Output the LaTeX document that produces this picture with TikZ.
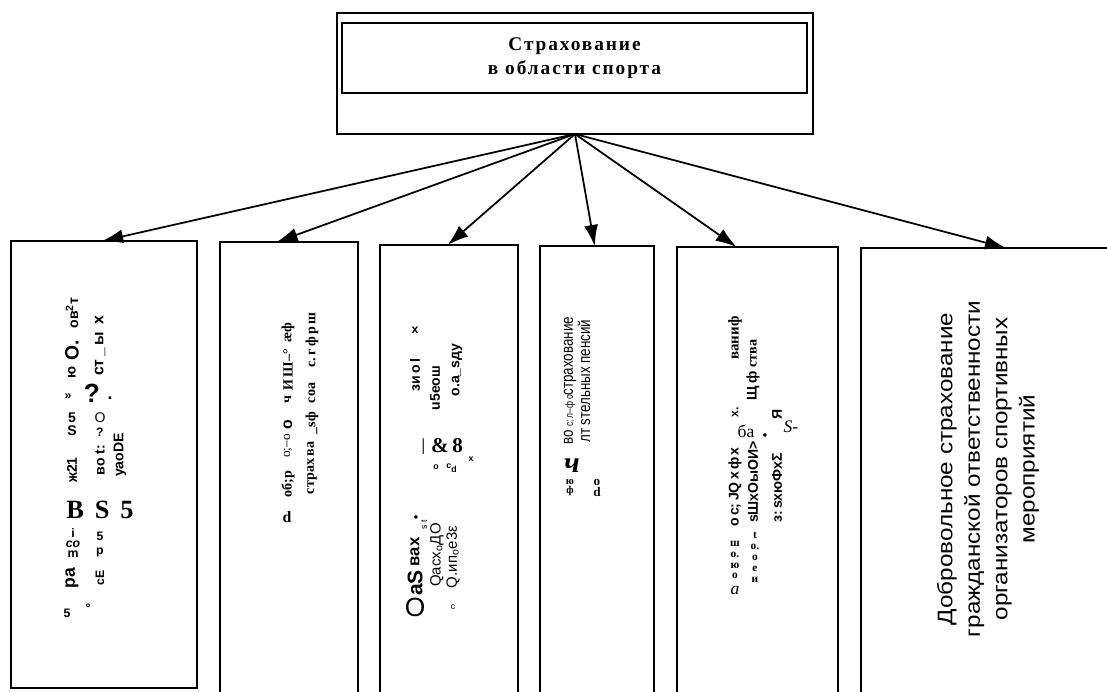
\documentclass[tikz,border=0pt]{standalone}
\usepackage{fontspec}
\setmainfont{Liberation Serif}
\setsansfont{Liberation Sans}
\newfontfamily\topfont{Liberation Serif}[LetterSpace=10]
\newfontfamily\longsans{Liberation Sans}[FakeStretch=1.15]
\newfontfamily\condsans{Liberation Sans}[FakeStretch=0.8]
\usetikzlibrary{arrows.meta,calc}

\tikzset{
  box/.style={draw, line width=1.2pt, inner sep=0pt, outer sep=0pt},
  arr/.style={line width=1pt, -{Latex[length=12pt,width=8pt]}},
  rs/.style={rotate=90, inner sep=0pt, font=\sffamily\bfseries\fontsize{7}{7}\selectfont},
  rr/.style={rotate=90, inner sep=0pt, font=\bfseries\fontsize{8}{8}\selectfont},
  us/.style={inner sep=0pt, font=\sffamily\bfseries\fontsize{7}{7}\selectfont},
  ur/.style={inner sep=0pt, font=\bfseries\fontsize{8}{8}\selectfont},
}

\begin{document}
\begin{tikzpicture}[x=0.02cm, y=-0.02cm]
            \useasboundingbox (0,0) rectangle (1107,691);
            \clip (0,0) rectangle (1107,691);
            % top box
            \node[box, minimum width=9.52cm, minimum height=2.42cm] (top) at (575,73.5) {};
            \node[box, line width=0.9pt, minimum width=9.3cm, minimum height=1.4cm, align=center,
                  font=\topfont\bfseries\fontsize{11}{13.6}\selectfont] (title) at (574.5,58) {Страхование\\в области спорта};
            % lower boxes
            \node[box, minimum width=3.72cm, minimum height=8.94cm] (b1) at (104,464.5) {};
            \node[box, minimum width=2.76cm, minimum height=9.36cm] (b2) at (289,476) {};
            \node[box, minimum width=2.76cm, minimum height=9.3cm] (b3) at (449,477.5) {};
            \node[box, minimum width=2.28cm, minimum height=9.28cm] (b4) at (597,478) {};
            \node[box, minimum width=3.22cm, minimum height=9.26cm] (b5) at (757.5,478.5) {};
            \node[box, minimum width=5.18cm, minimum height=9.24cm] (b6) at (990.5,479) {};
            % arrows
            \draw[arr] (top.south) -- ($(b1.north west)!0.49!(b1.north east)$);
            \draw[arr] (top.south) -- ($(b2.north west)!0.41!(b2.north east)$);
            \draw[arr] (top.south) -- ($(b3.north west)!0.49!(b3.north east)$);
            \draw[arr] (top.south) -- ($(b4.north west)!0.48!(b4.north east)$);
            \draw[arr] (top.south) -- ($(b5.north west)!0.37!(b5.north east)$);
            \draw[arr] (top.south) -- ($(b6.north west)!0.56!(b6.north east)$);
            % box 1
            \node[rs, font=\sffamily\bfseries\fontsize{8}{8}\selectfont] (g1) at (72,313) {ов\textsuperscript{2}т};
            \node[rs, font=\sffamily\bfseries\fontsize{11}{11}\selectfont] (g2) at (72,350) {O.};
            \node[rs, font=\sffamily\bfseries\fontsize{8}{8}\selectfont] (g3) at (72,372) {ю};
            \node[us] (g4) at (68,397) {»};
            \node[us, font=\sffamily\bfseries\fontsize{15}{15}\selectfont] (g5) at (92,393) {?};
            \node[us, font=\sffamily\bfseries\fontsize{10}{10}\selectfont] (g6) at (110,398) {.};
            \node[us, font=\sffamily\bfseries\fontsize{8}{8}\selectfont] (g7) at (72,418) {5};
            \node[us, font=\sffamily\bfseries\fontsize{8}{8}\selectfont] (g8) at (72,431) {S};
            \node[us, font=\sffamily\fontsize{8}{8}\selectfont] (g9) at (100,418) {O};
            \node[us] (g10) at (100,432) {?};
            \node[rs, font=\sffamily\bfseries\fontsize{8}{8}\selectfont] (g11) at (72,470) {ж21};
            \node[rs, font=\sffamily\bfseries\fontsize{9}{9}\selectfont] (g12) at (100,346) {ст\,\_\,ы\, x};
            \node[rs, font=\sffamily\bfseries\fontsize{8}{8}\selectfont] (g13) at (100,460) {во t:};
            \node[rs, font=\sffamily\bfseries\fontsize{8}{8}\selectfont] (g14) at (120,455) {уаоDE};
            \node[ur, font=\bfseries\fontsize{15}{15}\selectfont] (g15) at (100,510) {B\, S\, 5};
            \node[us, align=center, font=\sffamily\bfseries\fontsize{7}{5.5}\selectfont] (g16) at (73,543) {i\\\textit{co}\\m};
            \node[us, align=center, font=\sffamily\bfseries\fontsize{7}{8}\selectfont] (g17) at (100,545) {5\\p};
            \node[rs, font=\sffamily\bfseries\fontsize{10}{10}\selectfont] (g18) at (72,578) {ра};
            \node[rs] (g19) at (100,578) {сЕ};
            \node[us] (g20) at (67,613) {5};
            \node[us] (g21) at (88,608) {°};
            % box 2
            \node[rr] (h1) at (288,484) {об;р};
            \node[rr, font=\fontsize{7.5}{7.5}\selectfont] (h2) at (288,446) {о;–о};
            \node[rs, font=\sffamily\bfseries\fontsize{9}{9}\selectfont] (h3) at (288,425) {о};
            \node[rr] (h4) at (288,400) {ч};
            \node[rr] (h5) at (288,370) {И\,Ш–°};
            \node[rr] (h6) at (288,333) {æф};
            \node[rr] (h7) at (312,468) {страх\,ва};
            \node[rr] (h8) at (312,423) {\_sф};
            \node[rr] (h9) at (312,393) {соа};
            \node[rr] (h10) at (312,340) {с.\,г\,ф\,р\,ш};
            \node[ur, font=\bfseries\fontsize{9}{9}\selectfont] (h11) at (287,517) {d};
            % box 3
            \node[us, font=\sffamily\fontsize{15}{15}\selectfont] (k1) at (415,607) {O};
            \node[rs, font=\sffamily\bfseries\fontsize{12}{12}\selectfont] (k2) at (415,583) {аS};
            \node[rs, font=\sffamily\bfseries\fontsize{9.5}{9.5}\selectfont] (k3) at (415,552) {вах};
            \node[rs, font=\sffamily\fontsize{5}{5}\selectfont] (k4) at (424,525) {s t};
            \node[us] (k5) at (416,519) {•};
            \node[rs, font=\sffamily\fontsize{9}{9}\selectfont] (k6) at (425,447) {—};
            \node[ur, font=\bfseries\fontsize{12}{12}\selectfont] (k7) at (447,446) {\&\,8};
            \node[us, font=\sffamily\bfseries\fontsize{5}{5}\selectfont] (k8) at (436,467) {o};
            \node[us, font=\sffamily\bfseries\fontsize{5}{5}\selectfont] (k9) at (452,468) {c\textsubscript{d}};
            \node[us, font=\sffamily\bfseries\fontsize{5}{5}\selectfont] (k10) at (471,459) {x};
            \node[rs, font=\sffamily\fontsize{8.5}{8.5}\selectfont] (k11) at (437,555) {Qасх\textsubscript{о}ДО};
            \node[rs, font=\sffamily\fontsize{8.5}{8.5}\selectfont] (k12) at (453,557) {Q.ип\textsubscript{о}е3ε};
            \node[us, font=\sffamily\fontsize{5}{5}\selectfont] (k13) at (453,607) {c};
            \node[us] (k14) at (415,330) {x};
            \node[rs, font=\sffamily\bfseries\fontsize{8}{8}\selectfont] (k15) at (415,375) {зи\,о\,I};
            \node[rs, font=\sffamily\bfseries\fontsize{8}{8}\selectfont] (k16) at (435,388) {u5еош};
            \node[rs, font=\sffamily\bfseries\fontsize{8}{8}\selectfont] (k17) at (457,370) {о.а\_sду};
            % box 4
            \node[rs, anchor=west, font=\condsans\fontsize{9.5}{9.5}\selectfont] (m1) at (570,445) {во {\fontsize{6}{6}\selectfont с;\,л–ф\,о}страхование};
            \node[rs, anchor=west, font=\condsans\fontsize{9.5}{9.5}\selectfont] (m2) at (584,443) {лт ѕтельных пенсий};
            \node[ur, font=\bfseries\itshape\fontsize{17}{17}\selectfont] (m3) at (572,466) {ч};
            \node[us, align=center, font=\bfseries\fontsize{6}{5}\selectfont] (m4) at (570,488) {ю\\ф};
            \node[ur, align=center, font=\bfseries\fontsize{7.5}{6.5}\selectfont] (m5) at (597,488) {о\\d};
            % box 5
            \node[ur, font=\itshape\fontsize{10}{10}\selectfont] (n1) at (735,590) {a};
            \node[ur, align=center, font=\bfseries\fontsize{6.5}{6.2}\selectfont] (n2) at (735,560) {ш\\о.\\ю\\о};
            \node[rs, font=\sffamily\bfseries\fontsize{8}{8}\selectfont] (n3) at (735,487) {о\,с;\,JQ\,х\,ф\,х};
            \node[ur, font=\fontsize{10}{10}\selectfont] (n4) at (746,431) {ба};
            \node[rs] (n5) at (735,412) {х.};
            \node[rr, font=\bfseries\fontsize{8.5}{8.5}\selectfont] (n6) at (735,338) {ваниф};
            \node[ur, align=center, font=\bfseries\fontsize{6.5}{6.2}\selectfont] (n7) at (755,557) {t\\о.\\о\\е\\и};
            \node[rs, font=\sffamily\bfseries\fontsize{8}{8}\selectfont] (n8) at (753,482) {sШхОыОИ>};
            \node[us] (n9) at (765,437) {•};
            \node[rs, font=\sffamily\bfseries\fontsize{8}{8}\selectfont] (n10) at (753,370) {Щ\,ф {\rmfamily ства}};
            \node[rs, font=\sffamily\bfseries\fontsize{8}{8}\selectfont] (n11) at (777,488) {з:\,sхюФхΣ};
            \node[ur, font=\itshape\fontsize{10}{10}\selectfont] (n12) at (791,427) {S-};
            \node[rs, font=\sffamily\bfseries\fontsize{8}{8}\selectfont] (n13) at (777,414) {Я};
            % box 6
            \node[rotate=90, align=center, font=\longsans\fontsize{12}{15.6}\selectfont] (t6) at (988,469)
                {Добровольное страхование\\гражданской ответственности\\организаторов спортивных\\мероприятий};
          \end{tikzpicture}
\end{document}
